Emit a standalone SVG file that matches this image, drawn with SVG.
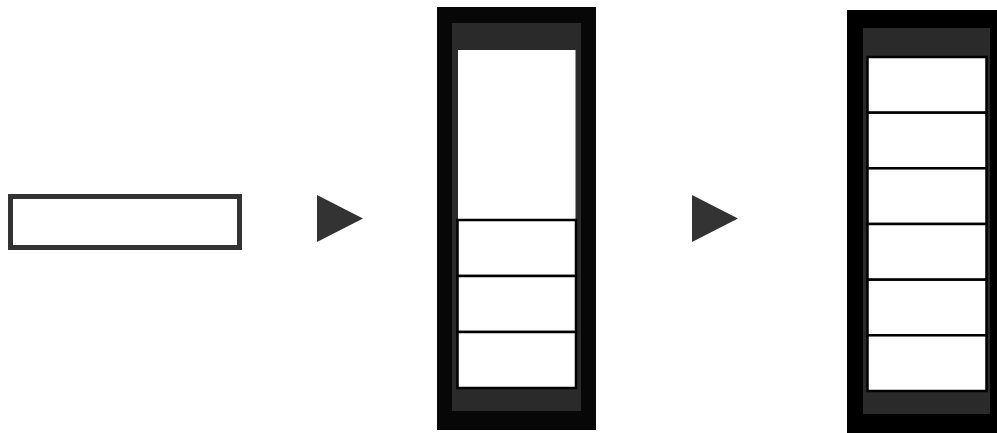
<svg xmlns="http://www.w3.org/2000/svg" width="997" height="433" viewBox="0 0 997 433">
<style>
.outer{fill:#070707}
.inner{fill:#2a2a2a}
.white{fill:#ffffff}
.slot{fill:#ffffff;stroke:#000;stroke-width:2.5}
.arrow{fill:#333333}
</style>
<rect width="997" height="433" fill="#ffffff"/>
<g id="bar">
<rect x="10.5" y="196.5" width="229" height="51" fill="#ffffff" stroke="#333333" stroke-width="5"/>
</g>
<g id="connectors">
<polygon class="arrow" points="317,195 363,218.5 317,242"/>
<polygon class="arrow" points="692,195 738,218.5 692,242"/>
</g>
<g id="tower-middle">
<rect class="outer" x="437" y="7" width="159" height="423"/>
<rect class="inner" x="452" y="23" width="129" height="388"/>
<rect class="white" x="458" y="50" width="117.5" height="171"/>
<rect class="slot" x="457.5" y="220" width="118.5" height="56"/>
<rect class="slot" x="457.5" y="276" width="118.5" height="56"/>
<rect class="slot" x="457.5" y="332" width="118.5" height="56"/>
</g>
<g id="tower-right">
<rect class="outer" x="847" y="10" width="160" height="430" style="fill:#000"/>
<rect class="inner" x="863" y="28" width="127" height="386"/>
<rect class="slot" x="867.5" y="57" width="119" height="55.7"/>
<rect class="slot" x="867.5" y="112.7" width="119" height="55.7"/>
<rect class="slot" x="867.5" y="168.3" width="119" height="55.7"/>
<rect class="slot" x="867.5" y="224" width="119" height="55.7"/>
<rect class="slot" x="867.5" y="279.7" width="119" height="55.7"/>
<rect class="slot" x="867.5" y="335.3" width="119" height="55.7"/>
</g>
</svg>
